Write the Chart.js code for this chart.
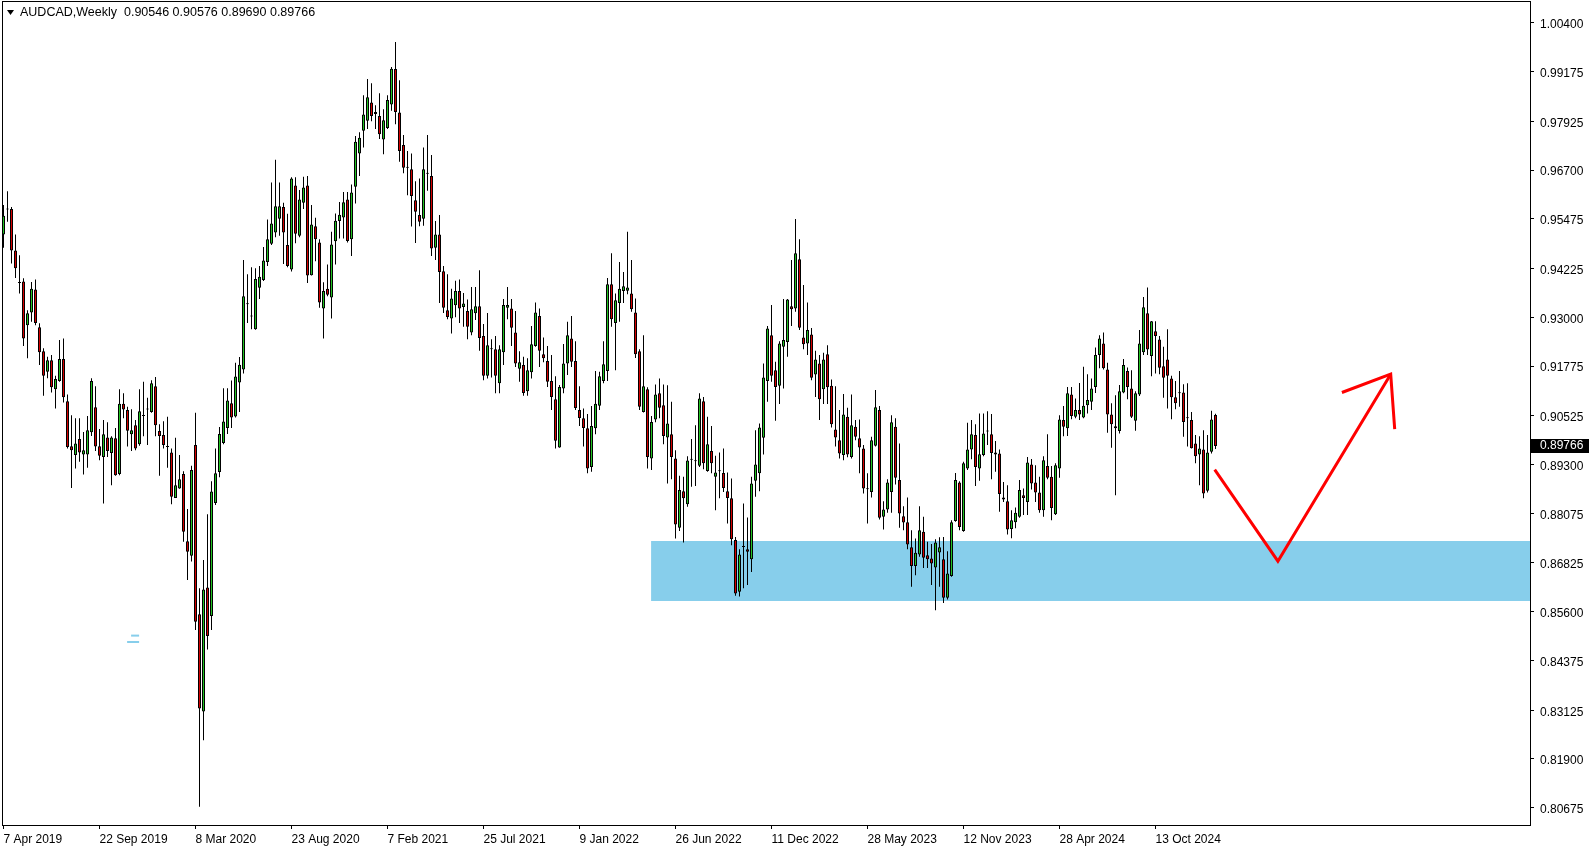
<!DOCTYPE html>
<html><head><meta charset="utf-8">
<script src="https://cdn.jsdelivr.net/npm/chart.js@4.4.1/dist/chart.umd.min.js"></script>
<style>html,body{margin:0;padding:0;background:#fff;overflow:hidden}canvas{display:block}</style>
</head><body>
<canvas id="c" width="1594" height="850"></canvas>
<script>
const chartTitle = 'AUDCAD,Weekly  0.90546 0.90576 0.89690 0.89766';
const open = [
.9508,.9571,.9572,.9468,.9387,.9390,.9280,.9312,.9370,.9275,
.9215,.9163,.9192,.9119,.9140,.9195,.9089,.8976,.8954,.8994,
.8955,.8955,.9011,.9074,.8976,.8949,.8998,.8959,.8996,.8906,
.9083,.9067,.9006,.9029,.8981,.9052,.9068,.9062,.9127,.9014,
.9004,.8975,.8960,.8846,.8870,.8906,.8737,.8701,.8979,.8554,
.8309,.8621,.8549,.8833,.8911,.8984,.9022,.9084,.9051,.9136,
.9169,.9335,.9302,.9270,.9374,.9394,.9439,.9485,.9513,.9548,
.9577,.9482,.9420,.9631,.9505,.9588,.9631,.9406,.9529,.9488,
.9322,.9372,.9350,.9491,.9542,.9551,.9596,.9496,.9628,.9712,
.9769,.9794,.9840,.9811,.9806,.9747,.9776,.9835,.9924,.9815,
.9733,.9676,.9672,.9594,.9557,.9548,.9662,.9655,.9475,.9508,
.9416,.9318,.9297,.9330,.9366,.9326,.9316,.9262,.9310,.9328,
.9253,.9153,.9221,.9220,.9134,.9212,.9324,.9322,.9262,.9171,
.9180,.9114,.9162,.9228,.9303,.9207,.9190,.9140,.9094,.8973,
.9121,.9184,.9247,.9190,.9067,.9046,.9021,.8924,.9021,.9078,
.9140,.9165,.9383,.9286,.9336,.9366,.9367,.9360,.9312,.9215,
.9062,.9119,.8945,.9043,.9109,.9079,.8998,.9006,.8945,.8771,
.8863,.8830,.8943,.8938,.8927,.9089,.8914,.8964,.8899,.8914,
.8909,.8863,.8845,.8740,.8610,.8724,.8717,.8692,.8889,.8908,
.8997,.9140,.9255,.9167,.9128,.9226,.9238,.9328,.9322,.9446,
.9249,.9234,.9257,.9156,.9184,.9119,.9207,.9128,.9018,.8991,
.8954,.9050,.8949,.9025,.8996,.8970,.8869,.8861,.8977,.9067,
.8799,.8817,.8861,.9025,.8891,.8800,.8785,.8722,.8675,.8704,
.8761,.8702,.8694,.8671,.8709,.8692,.8595,.8650,.8788,.8885,
.8763,.8920,.8968,.9004,.8920,.8954,.9013,.9006,.8960,.8958,
.8847,.8838,.8768,.8785,.8799,.8853,.8836,.8930,.8885,.8860,
.8815,.8926,.8899,.8805,.8920,.9042,.9021,.9106,.9050,.9067,
.9048,.9079,.9088,.9125,.9205,.9234,.9169,.9056,.9026,.9014,
.9111,.9165,.9121,.9040,.9106,.9212,.9310,.9203,.9265,.9244,
.9177,.9194,.9146,.9099,.9110,.9111,.9047,.9042,.8983,.8955,
.8968,.8864,.8962,.90546];
const high = [
.9582,.9617,.9577,.9508,.9456,.9398,.9318,.9389,.9395,.9285,
.9222,.9201,.9205,.9153,.9243,.9247,.9106,.9054,.9046,.9046,
.9012,.9052,.9147,.9127,.9019,.9042,.9036,.9001,.9022,.9119,
.9109,.9075,.9069,.9042,.9119,.9138,.9098,.9142,.9150,.9031,
.9039,.9050,.8970,.8997,.8954,.8913,.8818,.8927,.9060,.8619,
.8690,.8805,.8888,.8970,.9024,.9122,.9122,.9141,.9186,.9200,
.9444,.9408,.9426,.9423,.9429,.9477,.9546,.9639,.9696,.9639,
.9588,.9560,.9652,.9652,.9620,.9653,.9655,.9582,.9550,.9496,
.9388,.9433,.9515,.9561,.9590,.9615,.9615,.9634,.9756,.9765,
.9858,.9899,.9888,.9833,.9863,.9823,.9858,.9929,.9992,.9896,
.9758,.9718,.9712,.9642,.9649,.9727,.9758,.9708,.9542,.9557,
.9429,.9408,.9372,.9392,.9395,.9361,.9345,.9376,.9376,.9418,
.9283,.9311,.9245,.9253,.9230,.9346,.9376,.9346,.9316,.9215,
.9201,.9197,.9278,.9337,.9322,.9249,.9228,.9205,.9152,.9130,
.9233,.9289,.9303,.9240,.9127,.9071,.9057,.9077,.9165,.9163,
.9240,.9399,.9461,.9360,.9439,.9414,.9515,.9444,.9347,.9220,
.9255,.9124,.9052,.9131,.9146,.9131,.9129,.9088,.8966,.8902,
.8899,.8951,.8994,.9029,.9109,.9100,.9050,.9027,.8952,.8960,
.8970,.8910,.8895,.8748,.8717,.8832,.8797,.8899,.9016,.9033,
.9184,.9278,.9331,.9188,.9240,.9346,.9346,.9444,.9547,.9496,
.9381,.9337,.9273,.9216,.9205,.9211,.9230,.9144,.9127,.9067,
.9107,.9073,.9106,.9042,.9043,.8979,.8908,.9000,.9117,.9077,
.8838,.8893,.9054,.9046,.8983,.8825,.8847,.8765,.8744,.8825,
.8799,.8736,.8730,.8742,.8747,.8748,.8712,.8790,.8909,.8888,
.8937,.9035,.9042,.9031,.9058,.9058,.9064,.9057,.8989,.8968,
.8886,.8878,.8815,.8822,.8891,.8870,.8949,.8944,.8928,.8899,
.8951,.9006,.8926,.8933,.9054,.9077,.9125,.9125,.9096,.9135,
.9176,.9157,.9146,.9224,.9255,.9262,.9186,.9084,.9104,.9130,
.9195,.9174,.9167,.9114,.9268,.9351,.9375,.9291,.9290,.9253,
.9226,.9270,.9153,.9140,.9165,.9132,.9134,.9062,.9004,.9001,
.9016,.9004,.9065,.90576];
const low = [
.9475,.9540,.9435,.9399,.9360,.9228,.9197,.9289,.9280,.9180,
.9103,.9147,.9111,.9071,.9138,.9086,.8970,.8871,.8920,.8937,
.8905,.8922,.9002,.8964,.8941,.8832,.8949,.8878,.8902,.8903,
.9046,.8975,.8964,.8966,.8977,.9001,.8979,.9060,.9001,.8902,
.8970,.8922,.8830,.8846,.8869,.8736,.8640,.8686,.8514,.8070,
.8237,.8465,.8514,.8828,.8898,.8981,.9007,.9022,.9048,.9062,
.9159,.9286,.9270,.9269,.9346,.9391,.9429,.9482,.9501,.9505,
.9434,.9426,.9415,.9486,.9501,.9572,.9386,.9405,.9441,.9324,
.9247,.9353,.9297,.9433,.9498,.9498,.9488,.9454,.9586,.9655,
.9727,.9773,.9793,.9773,.9748,.9710,.9773,.9819,.9785,.9691,
.9662,.9607,.9528,.9487,.9529,.9530,.9618,.9454,.9444,.9336,
.9311,.9295,.9259,.9300,.9286,.9276,.9245,.9255,.9293,.9216,
.9142,.9146,.9149,.9109,.9109,.9180,.9295,.9228,.9175,.9138,
.9103,.9103,.9146,.9226,.9175,.9187,.9125,.9067,.8970,.8972,
.9109,.9155,.9175,.9067,.9027,.8975,.8908,.8912,.9006,.9067,
.9134,.9140,.9276,.9167,.9289,.9336,.9358,.9314,.9198,.9067,
.9061,.8920,.8916,.9036,.9046,.8981,.8882,.8893,.8744,.8763,
.8734,.8824,.8874,.8876,.8924,.8918,.8912,.8908,.8815,.8845,
.8861,.8782,.8727,.8600,.8598,.8619,.8627,.8660,.8849,.8863,
.8955,.9088,.9138,.9040,.9082,.9121,.9201,.9278,.9314,.9268,
.9220,.9205,.9142,.9100,.9042,.9082,.9082,.9023,.8975,.8945,
.8941,.8948,.8945,.8991,.8908,.8857,.8782,.8847,.8975,.8792,
.8767,.8809,.8809,.8880,.8771,.8765,.8717,.8623,.8652,.8698,
.8670,.8670,.8627,.8564,.8623,.8582,.8591,.8648,.8786,.8765,
.8761,.8916,.8943,.8876,.8889,.8951,.8979,.8893,.8912,.8811,
.8836,.8754,.8745,.8770,.8796,.8803,.8803,.8867,.8836,.8809,
.8799,.8893,.8790,.8803,.8897,.9001,.9002,.9044,.9046,.9042,
.9046,.9058,.9067,.9110,.9172,.9169,.9010,.8972,.8853,.9008,
.9109,.9094,.9047,.9015,.9102,.9205,.9205,.9152,.9159,.9157,
.9098,.9071,.9044,.9069,.9075,.9000,.8975,.8970,.8933,.8878,
.8845,.8860,.8958,.89690];
const close = [
.9555,.9571,.9468,.9423,.9386,.9247,.9310,.9372,.9286,.9212,
.9153,.9192,.9124,.9145,.9195,.9099,.8974,.8966,.8983,.8960,
.8966,.9016,.9140,.8975,.8952,.9006,.8964,.8998,.8903,.9083,
.9068,.9015,.9016,.8970,.9064,.9053,.9069,.9134,.9029,.9002,
.8979,.8974,.8849,.8878,.8893,.8761,.8711,.8916,.8535,.8317,
.8616,.8499,.8862,.8908,.9007,.9038,.9091,.9048,.9151,.9181,
.9353,.9333,.9303,.9396,.9402,.9443,.9496,.9536,.9579,.9579,
.9513,.9429,.9649,.9510,.9596,.9626,.9405,.9533,.9496,.9337,
.9366,.9357,.9483,.9543,.9558,.9589,.9492,.9614,.9741,.9751,
.9810,.9853,.9806,.9816,.9760,.9795,.9846,.9925,.9816,.9718,
.9676,.9678,.9605,.9565,.9540,.9672,.9661,.9473,.9508,.9414,
.9324,.9301,.9347,.9366,.9322,.9335,.9276,.9320,.9328,.9248,
.9153,.9230,.9220,.9153,.9220,.9331,.9331,.9274,.9184,.9187,
.9110,.9167,.9232,.9312,.9216,.9197,.9138,.9100,.8990,.9125,
.9184,.9255,.9188,.9072,.9047,.9022,.8920,.9027,.9083,.9152,
.9182,.9383,.9295,.9343,.9372,.9378,.9375,.9320,.9207,.9075,
.9127,.8949,.9037,.9106,.9073,.9002,.9033,.8949,.8779,.8866,
.8845,.8940,.8942,.8939,.9096,.8933,.8981,.8933,.8910,.8913,
.8871,.8846,.8742,.8606,.8704,.8723,.8711,.8882,.8930,.9023,
.9149,.9272,.9153,.9125,.9234,.9243,.9345,.9320,.9461,.9274,
.9232,.9268,.9148,.9194,.9094,.9194,.9124,.9031,.8998,.8958,
.9056,.8955,.9029,.9000,.8973,.8870,.8868,.8991,.9074,.8796,
.8817,.8885,.9036,.8897,.8807,.8784,.8729,.8675,.8708,.8765,
.8696,.8692,.8681,.8734,.8722,.8595,.8656,.8785,.8891,.8773,
.8933,.8968,.9006,.8924,.8956,.9008,.9014,.8959,.8955,.8856,
.8842,.8767,.8790,.8809,.8866,.8846,.8935,.8882,.8860,.8815,
.8941,.8897,.8821,.8928,.9043,.9025,.9109,.9052,.9067,.9056,
.9078,.9092,.9121,.9205,.9247,.9172,.9056,.9031,.9021,.9114,
.9180,.9125,.9050,.9109,.9234,.9325,.9219,.9290,.9253,.9173,
.9148,.9153,.9099,.9084,.9109,.9037,.9046,.8971,.8951,.8970,
.8857,.8960,.9043,.89766];
const dateLabels = ['7 Apr 2019','22 Sep 2019','8 Mar 2020','23 Aug 2020','7 Feb 2021','25 Jul 2021','9 Jan 2022','26 Jun 2022','11 Dec 2022','28 May 2023','12 Nov 2023','28 Apr 2024','13 Oct 2024'];
const dateLabelBars = [0,24,48,72,96,120,144,168,192,216,240,264,288];
const priceTicks = [1.00400,0.99175,0.97925,0.96700,0.95475,0.94225,0.93000,0.91775,0.90525,0.89300,0.88075,0.86825,0.85600,0.84375,0.83125,0.81900,0.80675];
const lastPrice = 0.89766;
const zoneStartBar = 161.9;
const zoneTop = 0.8738;
const zoneBottom = 0.8587;
const arrowPathBars = [302.8, 318.6, 346.8];
const arrowPathPrices = [0.8917, 0.8687, 0.9157];
const arrowHeadBars = [334.6, 346.8, 347.8];
const arrowHeadPrices = [0.9111, 0.9157, 0.9019];
const markUpperBars = [31.9, 33.9];
const markUpperPrice = 0.8500;
const markLowerBars = [30.9, 33.9];
const markLowerPrice = 0.8484;

const X_MIN = -0.375, X_MAX = 381.625, Y_MIN = 0.8024, Y_MAX = 1.0095;
const BULL = '#22c322', BEAR = '#d40000', ZONE = '#87ceeb';
const FONT = {family: 'Liberation Sans', size: 12};

const idx = close.map((_, i) => i);
const wickData = idx.map(i => ({x: i, y: [low[i], high[i]]}));
const bodyData = idx.map(i => ({x: i, y: [Math.min(open[i], close[i]), Math.max(open[i], close[i])]}));
const bodyColors = idx.map(i => close[i] > open[i] ? BULL : (close[i] < open[i] ? BEAR : '#000'));
const pts = (xs, ys) => xs.map((x, k) => ({x: x, y: Array.isArray(ys) ? ys[k] : ys}));
const noPad = s => { s.paddingTop = 0; s.paddingBottom = 0; s.paddingLeft = 0; s.paddingRight = 0; };

const framePlugin = {
  id: 'frame',
  afterDraw(chart) {
    const {ctx, chartArea: a} = chart;
    ctx.save();
    ctx.strokeStyle = '#000'; ctx.lineWidth = 1;
    ctx.strokeRect(a.left + 0.5, a.top + 0.5, a.right - a.left, a.bottom - a.top);
    ctx.fillStyle = '#000';
    ctx.beginPath(); ctx.moveTo(7, 10); ctx.lineTo(14, 10); ctx.lineTo(10.5, 15); ctx.closePath(); ctx.fill();
    ctx.font = '12.5px "Liberation Sans"';
    ctx.textBaseline = 'middle'; ctx.textAlign = 'left';
    ctx.fillText(chartTitle, 20, 13);
    const y = Math.round(chart.scales.y.getPixelForValue(lastPrice));
    ctx.fillStyle = '#000';
    ctx.fillRect(a.right + 1, y - 7, 58, 14);
    ctx.fillStyle = '#fff';
    ctx.font = '12px "Liberation Sans"';
    ctx.fillText(lastPrice.toFixed(5), a.right + 10, y);
    ctx.restore();
  }
};

new Chart(document.getElementById('c'), {
  type: 'bar',
  data: {
    datasets: [
      {type: 'line', data: pts([zoneStartBar, X_MAX], zoneTop), borderWidth: 0, pointRadius: 0, backgroundColor: ZONE, fill: '+1', order: 10},
      {type: 'line', data: pts([zoneStartBar, X_MAX], zoneBottom), borderWidth: 0, pointRadius: 0, fill: false, order: 11},
      {type: 'line', data: pts(markUpperBars, markUpperPrice), borderColor: ZONE, borderWidth: 2, pointRadius: 0, fill: false, order: 9},
      {type: 'line', data: pts(markLowerBars, markLowerPrice), borderColor: ZONE, borderWidth: 2, pointRadius: 0, fill: false, order: 9},
      {type: 'bar', data: wickData, backgroundColor: '#000', borderWidth: 0, barThickness: 1, grouped: false, inflateAmount: 0, minBarLength: 1, order: 3},
      {type: 'bar', data: bodyData, backgroundColor: bodyColors, borderColor: '#000', borderWidth: 1, borderSkipped: false, barThickness: 3, grouped: false, inflateAmount: 0, minBarLength: 1, order: 2},
      {type: 'line', data: pts(arrowPathBars, arrowPathPrices), borderColor: '#ff0000', borderWidth: 3, pointRadius: 0, fill: false, tension: 0, order: 0},
      {type: 'line', data: pts(arrowHeadBars, arrowHeadPrices), borderColor: '#ff0000', borderWidth: 3, pointRadius: 0, fill: false, tension: 0, order: 0}
    ]
  },
  options: {
    responsive: false,
    animation: false,
    devicePixelRatio: 1,
    layout: {padding: {left: 2, top: 1, right: 0, bottom: 0}},
    plugins: {legend: {display: false}, tooltip: {enabled: false}},
    scales: {
      x: {
        type: 'linear', min: X_MIN, max: X_MAX, offset: false,
        grid: {display: true, offset: false, drawOnChartArea: false, drawTicks: true, tickLength: 4, color: '#000'},
        border: {display: false},
        afterBuildTicks: s => { s.ticks = dateLabelBars.map(v => ({value: v})); },
        afterFit: s => { s.height = 25; noPad(s); },
        ticks: {autoSkip: false, maxRotation: 0, minRotation: 0, align: 'start', padding: 3, color: '#000', font: FONT,
                callback: (v, i) => dateLabels[i]}
      },
      y: {
        type: 'linear', position: 'right', min: Y_MIN, max: Y_MAX,
        grid: {display: true, drawOnChartArea: false, drawTicks: true, tickLength: 4, color: '#000'},
        border: {display: false},
        afterBuildTicks: s => { s.ticks = priceTicks.map(v => ({value: v})); },
        afterFit: s => { s.width = 64; noPad(s); },
        ticks: {padding: 6, labelOffset: 2, color: '#000', font: FONT, callback: v => v.toFixed(5)}
      }
    }
  },
  plugins: [framePlugin]
});
</script>
</body></html>
